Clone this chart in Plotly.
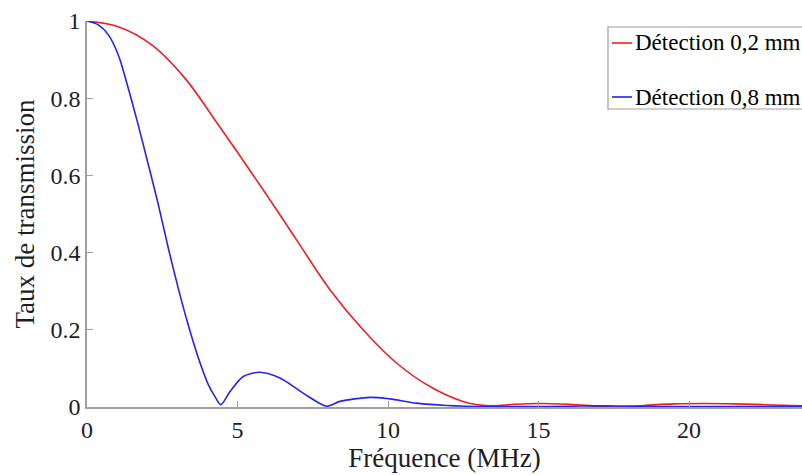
import plotly.graph_objects as go

# Frequency (MHz) and transmission values
freq_red = [0, 1.04, 2.15, 3.25, 4.36, 5.85, 6.96, 8.07, 9.17, 10.28, 11.39,
            12.49, 13.38, 14.2, 15.0, 16.0, 17.0, 17.6, 18.5, 19.5, 20.5, 21.5, 22.5,
            23.75]
trans_red = [1.0, 0.985, 0.938, 0.852, 0.731, 0.563, 0.433, 0.304, 0.200, 0.114,
             0.053, 0.0145, 0.003, 0.007, 0.009, 0.007, 0.002, 0.0005, 0.004, 0.008,
             0.009, 0.008, 0.006, 0.003]

freq_blue = [0, 0.375, 0.71, 1.04, 1.37, 1.70, 2.04, 2.37, 2.70, 3.03, 3.36, 3.70, 4.03,
             4.25, 4.45, 4.75, 5.19, 5.74, 6.41, 7.18, 7.96, 8.40, 9.40, 10.06, 10.95,
             11.94, 13.38, 14.5, 16.0, 17.0, 18.0, 19.5, 21.0, 22.5, 23.75]
trans_blue = [1.0, 0.990, 0.964, 0.912, 0.826, 0.731, 0.627, 0.524, 0.412, 0.308, 0.213,
              0.127, 0.058, 0.027, 0.006, 0.040, 0.079, 0.090, 0.075, 0.036, 0.002,
              0.0145, 0.025, 0.021, 0.010, 0.004, 0.001, 0.001, 0.002, 0.003, 0.002,
              0.001, 0.001, 0.001, 0.001]

names = ["Détection 0,2 mm", "Détection 0,8 mm"]
colors = ["rgb(236,32,36)", "rgb(36,36,236)"]

x_ticks = [0, 5, 10, 15, 20]
y_ticks = [0, 0.2, 0.4, 0.6, 0.8, 1]

FONT = "Liberation Serif, Times New Roman, serif"
GRAY = "rgb(160,160,160)"

fig = go.Figure()
fig.add_trace(go.Scatter(x=freq_red, y=trans_red, mode="lines", name=names[0],
                         line=dict(color=colors[0], width=1.6, shape="spline", smoothing=1.0),
                         showlegend=False))
fig.add_trace(go.Scatter(x=freq_blue, y=trans_blue, mode="lines", name=names[1],
                         line=dict(color=colors[1], width=1.6, shape="spline", smoothing=0.8),
                         showlegend=False))

W, H = 802, 475
L, R, T, B = 87, 0, 21, 68
pw, ph = W - L - R, H - T - B
def px(xs):
    return (xs - L) / pw
def py(ys):
    return (H - B - ys) / ph

# manual legend (box partially cut by the right edge, as in the reference)
fig.add_shape(type="rect", xref="paper", yref="paper",
              x0=px(608), x1=px(1000), y0=py(109), y1=py(27),
              line=dict(color=GRAY, width=1.2), fillcolor="white", layer="above")
for nm, c, yy in zip(names, colors, [43, 97]):
    fig.add_shape(type="line", xref="paper", yref="paper",
                  x0=px(612), x1=px(632), y0=py(yy), y1=py(yy),
                  line=dict(color=c, width=1.6), layer="above")
    fig.add_annotation(xref="paper", yref="paper", x=px(633), y=py(yy),
                       xanchor="left", yanchor="middle", text=nm, showarrow=False,
                       font=dict(family=FONT, size=23, color="black"))

fig.update_layout(
    width=W, height=H,
    margin=dict(l=L, r=R, t=T, b=B),
    plot_bgcolor="white", paper_bgcolor="white",
    font=dict(family=FONT, color="rgb(30,30,30)"),
)
fig.update_xaxes(range=[0, 23.75], tickvals=x_ticks, ticks="inside", ticklen=6,
                 tickcolor=GRAY, showline=True, linecolor=GRAY, linewidth=1.5,
                 showgrid=False, zeroline=False, tickfont=dict(size=24),
                 title=dict(text="Fréquence (MHz)", font=dict(size=27), standoff=4))
fig.update_yaxes(range=[0, 1], tickvals=y_ticks, ticks="inside", ticklen=6,
                 tickcolor=GRAY, showline=True, linecolor=GRAY, linewidth=1.5,
                 showgrid=False, zeroline=False, tickfont=dict(size=24),
                 title=dict(text="Taux de transmission", font=dict(size=27), standoff=8))

fig.write_html("out.html", config={"displayModeBar": False},
               post_script="document.body.style.margin='0';document.body.style.overflow='hidden';")
